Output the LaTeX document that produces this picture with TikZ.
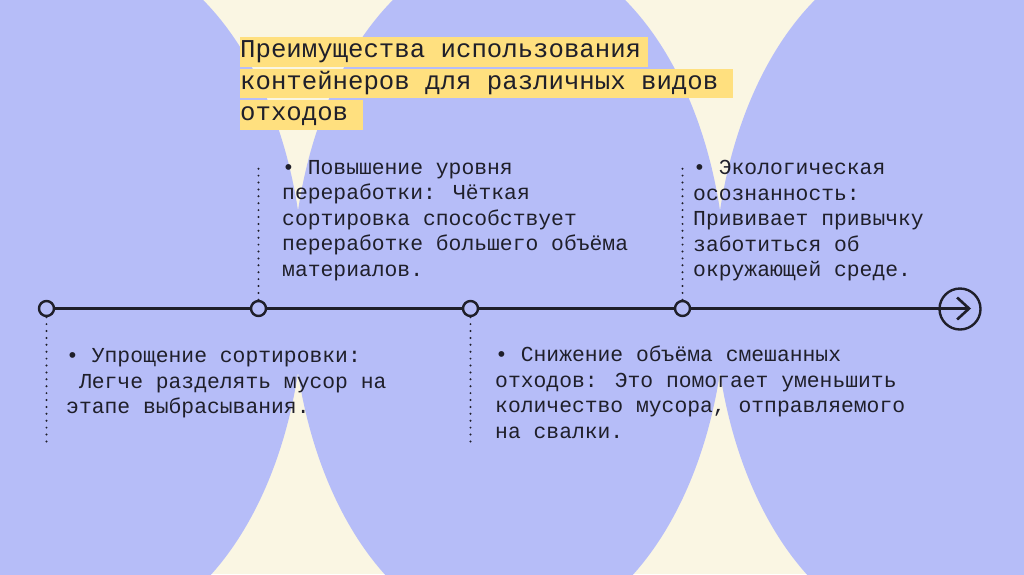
\documentclass[tikz,border=0pt]{standalone}
\usepackage{fontspec}
\setmainfont{Liberation Mono}
\usepackage{xcolor}
\usetikzlibrary{arrows.meta, positioning}

\definecolor{bgcream}{HTML}{FAF6E3}
\definecolor{lavender}{HTML}{B6BDF8}
\definecolor{marker}{HTML}{FFE07F}
\definecolor{ink}{HTML}{1F1F2A}

\begin{document}
\begin{tikzpicture}[
    x=1pt, y=-1pt,
    blob/.style={fill=lavender},
    titleline/.style={fill=marker, inner sep=0pt, anchor=base west,
        text height=20.5pt, text depth=9pt, text=ink,
        font=\fontsize{25.7}{31.5}\selectfont},
    stepdot/.style={circle, draw=ink, fill=lavender, line width=2.4pt,
        minimum size=15pt, inner sep=0pt},
    endring/.style={circle, draw=ink, line width=2.4pt,
        minimum size=41pt, inner sep=0pt},
    tline/.style={draw=ink, line width=2.6pt},
    dotline/.style={draw=ink, line width=2.2pt, line cap=round,
        dash pattern=on 0pt off 6.9pt},
    notetext/.style={anchor=base west, align=left, inner sep=0pt, text=ink,
        font=\fontsize{21.35}{25.6}\selectfont},
]
%% ========== BACKGROUND ==========
\useasboundingbox (0,0) rectangle (1024,574);
\clip (0,0) rectangle (1024,574);
\fill[bgcream] (0,0) rectangle (1024,574);
\fill[blob] (87,291.5) ellipse [x radius=217pt, y radius=345pt];
\fill[blob] (509,291.5) ellipse [x radius=217pt, y radius=345pt];
\fill[blob] (931,291.5) ellipse [x radius=217pt, y radius=345pt];

%% ========== TITLE ==========
\node[titleline] (t1) at (240,57.5) {Преимущества использования\hspace{7pt}\mbox{}};
\node[titleline] (t2) at (240,89) {контейнеров для различных видов\hspace{15pt}\mbox{}};
\node[titleline] (t3) at (240,120.5) {отходов\hspace{15pt}\mbox{}};

%% ========== TIMELINE ==========
\node[stepdot] (p1) at (46.5,308.5) {};
\node[stepdot] (p2) at (258.5,308.5) {};
\node[stepdot] (p3) at (470.5,308.5) {};
\node[stepdot] (p4) at (682.5,308.5) {};
\node[endring] (fin) at (960,309) {};
\coordinate (tip) at (971,308.5);

\draw[tline] (p1) -- (p2);
\draw[tline] (p2) -- (p3);
\draw[tline] (p3) -- (p4);
\draw[tline, -{Straight Barb[length=12pt, width=22pt]}] (p4) -- (tip);

%% dotted leaders
\coordinate (d1) at (46.5,443);
\coordinate (d2) at (258.5,163);
\coordinate (d3) at (470.5,443);
\coordinate (d4) at (682.5,163);
\draw[dotline] (p1) -- (d1);
\draw[dotline] (p2) -- (d2);
\draw[dotline] (p3) -- (d3);
\draw[dotline] (p4) -- (d4);

%% ========== NOTES ==========
%% (base = last line)
\node[notetext] (n1) at (66,413.7) {%
• Упрощение сортировки:\\
~Легче разделять мусор на\\
этапе выбрасывания.};

\node[notetext] (n2) at (282,276.4) {%
• Повышение уровня\\
переработки: Чёткая\\
сортировка способствует\\
переработке большего объёма\\
материалов.};

\node[notetext] (n3) at (495,438.3) {%
• Снижение объёма смешанных\\
отходов: Это помогает уменьшить\\
количество мусора, отправляемого\\
на свалки.};

\node[notetext] (n4) at (693,276.9) {%
• Экологическая\\
осознанность:\\
Прививает привычку\\
заботиться об\\
окружающей среде.};
\end{tikzpicture}
\end{document}
